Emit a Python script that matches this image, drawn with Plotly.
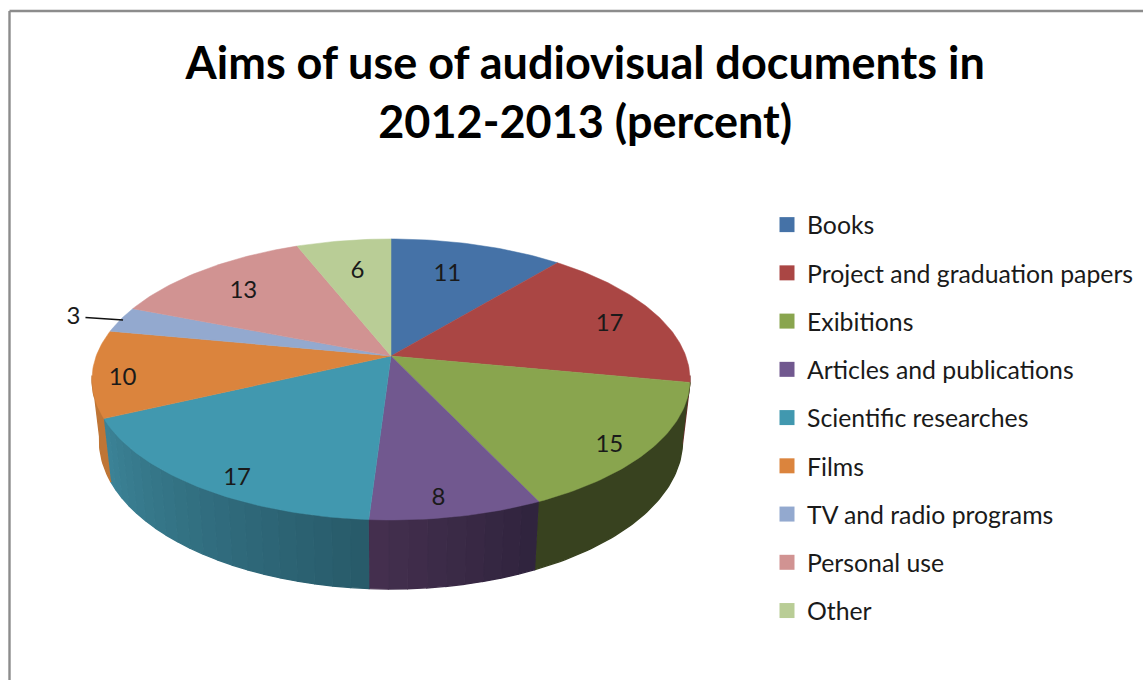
import math
import plotly.graph_objects as go

TITLE = "Aims of use of audiovisual documents in<br>2012-2013 (percent)"
categories = ["Books", "Project and graduation papers", "Exibitions", "Articles and publications",
              "Scientific researches", "Films", "TV and radio programs", "Personal use", "Other"]
values = [11, 17, 15, 8, 17, 10, 3, 13, 6]
top_colors = ["#4572a7", "#aa4644", "#89a54e", "#71588f", "#4198af", "#db843d", "#93a9cf", "#d19392", "#b9cd96"]
# shading of the rim: colour at the clockwise start and end of each slice's wall
wall_start = ["#2e4d70", "#6f2e2c", "#38421f", "#2f233d", "#275a69", "#bf7535", "#63738d", "#8f6463", "#7e8c66"]
wall_end = ["#2e4d70", "#6f2e2c", "#38421f", "#45304f", "#3c8397", "#bf7535", "#63738d", "#8f6463", "#7e8c66"]
# placement of each value label: share of the pie radius, and degrees off the slice's middle
label_radius = [0.73, 0.82, 0.88, 0.88, 0.885, 0.90, 1.18, 0.77, 0.735]
label_turn = [-2.8, 0.7, 2.6, 1.8, -3.2, -1.5, -0.3, -0.2, 0.8]
LABEL_DY = 4

# perspective model of the pie, in page pixels
CX, CY, A, B, K = 391, 356, 136.6, 294.8, 0.167
RIM_SX, RIM_SY, RIM_Y0 = 0.975, 1.055, 416
WALL_FROM, WALL_TO = 98, 262


def top(theta, r=1.0):
    t = math.radians(theta)
    u, v = r * math.sin(t), r * math.cos(t)
    d = 1 + K * v
    return CX + B * u / d, CY - A * v / d


def bottom(theta):
    x, y = top(theta)
    return CX + RIM_SX * (x - CX), RIM_Y0 + RIM_SY * (y - CY)


def mix(c1, c2, f):
    a = [int(c1[i:i + 2], 16) for i in (1, 3, 5)]
    b = [int(c2[i:i + 2], 16) for i in (1, 3, 5)]
    return "rgb(%d,%d,%d)" % tuple(round(p + (q - p) * f) for p, q in zip(a, b))


total = sum(values)
edges = [0.0]
for val in values:
    edges.append(edges[-1] + 360 * val / total)

fig = go.Figure()

# side wall, drawn first so the top face covers its upper edge
for i, name in enumerate(categories):
    lo, hi = max(edges[i], WALL_FROM), min(edges[i + 1], WALL_TO)
    if hi <= lo:
        continue
    n = 1 if wall_start[i] == wall_end[i] else max(1, int((hi - lo) / 3))
    for j in range(n):
        a0 = lo + (hi - lo) * j / n
        a1 = lo + (hi - lo) * (j + 1) / n
        m = max(4, int(a1 - a0))
        angs = [a0 + (a1 - a0) * s / m for s in range(m + 1)]
        tp = [top(a) for a in angs]
        bt = [bottom(a) for a in reversed(angs)]
        col = mix(wall_start[i], wall_end[i], (j + 0.5) / n)
        fig.add_trace(go.Scatter(
            x=[p[0] for p in tp + bt], y=[p[1] for p in tp + bt], mode="lines", fill="toself",
            fillcolor=col, line=dict(color=col, width=1.4), hoverinfo="skip",
            showlegend=False, legendgroup=name))

# top face
for i, name in enumerate(categories):
    n = max(4, int(edges[i + 1] - edges[i]))
    pts = [top(edges[i] + (edges[i + 1] - edges[i]) * s / n) for s in range(n + 1)]
    xs = [CX] + [p[0] for p in pts] + [CX]
    ys = [CY] + [p[1] for p in pts] + [CY]
    fig.add_trace(go.Scatter(
        x=xs, y=ys, mode="lines", fill="toself", fillcolor=top_colors[i],
        line=dict(color=top_colors[i], width=0.5), name=name, text=f"{name}: {values[i]}",
        hoverinfo="text", showlegend=False, legendgroup=name))

# legend entries
for i, name in enumerate(categories):
    fig.add_trace(go.Scatter(
        x=[None], y=[None], mode="markers", name=name, legendgroup=name,
        marker=dict(symbol="square", size=15, color=top_colors[i], line=dict(width=0))))

# leader line of the small slice
small = values.index(min(values))
mid_small = (edges[small] + edges[small + 1]) / 2
p0, p1 = top(mid_small - 1, 1.127), top(mid_small, 0.99)
fig.add_trace(go.Scatter(x=[p0[0], p1[0]], y=[p0[1], p1[1]], mode="lines",
                         line=dict(color="#111111", width=1.6), hoverinfo="skip", showlegend=False))

# value labels
lab = [top((edges[i] + edges[i + 1]) / 2 + label_turn[i], label_radius[i]) for i in range(len(values))]
fig.add_trace(go.Scatter(
    x=[p[0] for p in lab], y=[p[1] + LABEL_DY for p in lab], mode="text", text=[str(v) for v in values],
    textposition="middle center", textfont=dict(family="Lato", size=24, color="#1a1a1a"),
    hoverinfo="skip", showlegend=False))

fig.update_layout(
    width=1143, height=680, margin=dict(l=0, r=0, t=0, b=0),
    paper_bgcolor="white", plot_bgcolor="white",
    title=dict(text=TITLE, x=0.512, xanchor="center", y=0.8835, yanchor="bottom",
               font=dict(family="Lato", size=45, color="black", weight="bold")),
    xaxis=dict(range=[0, 1143], visible=False, fixedrange=True),
    yaxis=dict(range=[680, 0], visible=False, fixedrange=True),
    legend=dict(x=767 / 1143, y=1 - 202 / 680, xanchor="left", yanchor="top", tracegroupgap=13,
                font=dict(family="Lato", size=24.8, color="#1a1a1a"), bgcolor="rgba(0,0,0,0)",
                itemwidth=30, itemclick=False, itemdoubleclick=False),
    shapes=[
        dict(type="line", xref="x", yref="y", x0=9.5, x1=9.5, y0=11, y1=680, line=dict(color="#8c8c8c", width=2.4)),
        dict(type="line", xref="x", yref="y", x0=9.5, x1=1143, y0=11, y1=11, line=dict(color="#8c8c8c", width=2.4)),
    ],
)

fig.write_html("out.html", config={"displayModeBar": False}, post_script="document.body.style.margin='0';")
